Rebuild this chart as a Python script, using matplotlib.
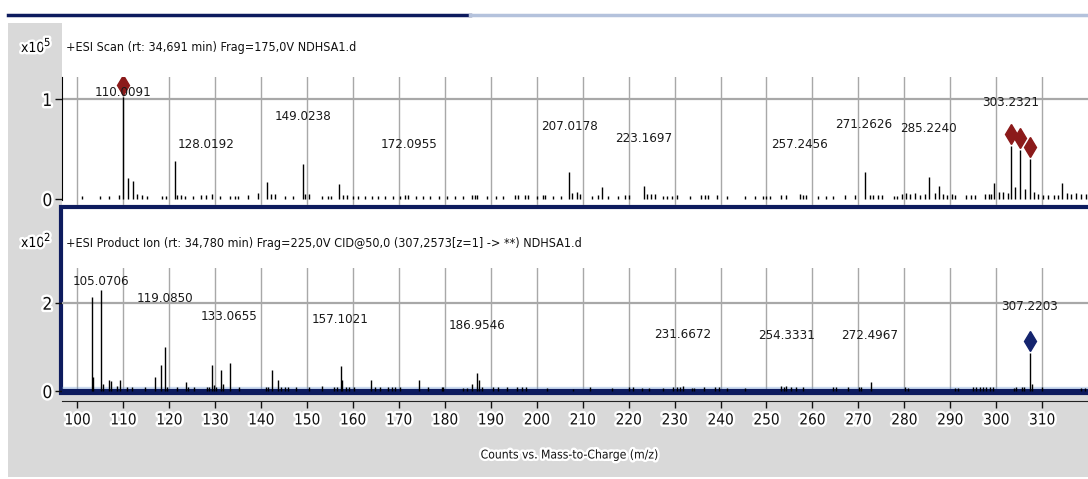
import matplotlib
matplotlib.use("Agg")
import matplotlib.pyplot as plt
from matplotlib import font_manager as fm
from matplotlib.patches import Rectangle
from matplotlib.lines import Line2D
import matplotlib.patheffects as pe

# ---- data ----
# top: +ESI Scan, intensity in x10^5 counts
scan_mz = [100.9, 104.9, 106.9, 109.1, 110.0, 111.1, 112.0, 112.9, 114.0, 115.2,
           118.3, 119.3, 121.2, 121.7, 122.5, 123.4, 125.1, 127.0, 128.0, 129.2,
           131.0, 133.2, 134.3, 135.0, 137.2, 139.4, 141.2, 142.1, 143.0, 145.2,
           147.0, 149.0, 149.5, 150.3, 153.2, 154.6, 155.3, 157.0, 157.7, 158.6,
           160.0, 161.1, 162.6, 164.1, 165.5, 167.0, 168.8, 170.2, 171.3, 172.0,
           173.7, 175.3, 176.7, 178.8, 180.4, 182.2, 183.9, 185.8, 186.5, 187.0,
           189.1, 191.1, 192.6, 195.3, 195.8, 197.4, 198.1, 200.0, 201.3, 201.8,
           203.6, 205.2, 207.0, 207.6, 208.7, 209.3, 212.0, 213.4, 214.3, 215.6,
           217.7, 219.2, 220.1, 223.3, 223.9, 224.8, 225.7, 227.4, 228.3, 229.4,
           230.5, 233.4, 235.7, 236.6, 237.3, 239.2, 241.3, 245.3, 247.4, 249.2,
           250.0, 250.7, 253.2, 254.3, 257.2, 257.9, 258.7, 261.2, 263.0, 264.5,
           267.2, 269.2, 271.4, 272.5, 273.2, 274.3, 275.2, 277.7, 278.5, 279.4,
           280.3, 281.3, 282.3, 283.4, 284.5, 285.4, 286.6, 287.5, 288.4, 289.4,
           290.3, 291.1, 293.5, 294.5, 295.5, 297.5, 298.4, 298.9, 299.5, 300.6,
           301.5, 302.6, 303.3, 304.2, 305.2, 306.2, 307.3, 308.3, 309.2, 310.1,
           311.4, 312.5, 313.4, 314.4, 315.4, 316.4, 317.4, 318.4, 319.5]
scan_int = [0.03, 0.03, 0.03, 0.04, 1.02, 0.21, 0.18, 0.05, 0.04, 0.03,
            0.03, 0.03, 0.38, 0.04, 0.04, 0.03, 0.03, 0.04, 0.04, 0.05,
            0.03, 0.03, 0.03, 0.03, 0.04, 0.06, 0.17, 0.05, 0.05, 0.03,
            0.03, 0.35, 0.05, 0.05, 0.03, 0.03, 0.03, 0.15, 0.04, 0.04,
            0.03, 0.03, 0.03, 0.03, 0.03, 0.03, 0.03, 0.03, 0.04, 0.04,
            0.03, 0.03, 0.03, 0.03, 0.03, 0.03, 0.03, 0.04, 0.04, 0.04,
            0.03, 0.03, 0.03, 0.04, 0.04, 0.04, 0.04, 0.03, 0.04, 0.04,
            0.03, 0.03, 0.27, 0.06, 0.07, 0.05, 0.03, 0.04, 0.12, 0.03,
            0.03, 0.04, 0.04, 0.13, 0.05, 0.05, 0.05, 0.03, 0.03, 0.03,
            0.04, 0.03, 0.04, 0.04, 0.04, 0.04, 0.03, 0.03, 0.03, 0.03,
            0.03, 0.03, 0.04, 0.04, 0.05, 0.04, 0.04, 0.03, 0.03, 0.03,
            0.04, 0.04, 0.27, 0.04, 0.04, 0.04, 0.04, 0.03, 0.03, 0.05,
            0.06, 0.05, 0.06, 0.04, 0.05, 0.22, 0.06, 0.13, 0.05, 0.04,
            0.05, 0.04, 0.04, 0.04, 0.04, 0.05, 0.05, 0.05, 0.16, 0.07,
            0.07, 0.06, 0.53, 0.12, 0.49, 0.10, 0.40, 0.07, 0.05, 0.04,
            0.04, 0.04, 0.04, 0.16, 0.06, 0.05, 0.06, 0.05, 0.05]
scan_marked = [110.0, 303.3, 305.2, 307.3]
scan_labels = ["110.0091", "128.0192", "149.0238", "172.0955", "207.0178",
               "223.1697", "257.2456", "271.2626", "285.2240", "303.2321"]
scan_label_y = [1.07, 0.55, 0.82, 0.55, 0.72, 0.61, 0.55, 0.74, 0.71, 0.97]

# bottom: +ESI Product Ion, intensity in x10^2 counts
prod_mz = [103.1, 103.3, 105.05, 105.5, 106.9, 107.3, 108.7, 109.3, 110.8, 111.8,
           114.7, 116.9, 118.1, 119.1, 119.55, 121.7, 123.6, 124.0, 125.4, 128.1,
           128.6, 129.2, 129.7, 130.1, 131.2, 131.7, 133.2, 135.2, 141.0, 141.5,
           142.3, 143.7, 144.2, 145.2, 145.9, 147.6, 150.5, 153.2, 155.8, 156.4,
           157.3, 157.6, 158.5, 159.2, 160.3, 163.8, 164.7, 165.8, 167.6, 168.5,
           169.2, 170.2, 174.4, 176.4, 179.3, 179.6, 184.0, 184.7, 185.8, 187.0,
           187.5, 188.0, 190.5, 191.6, 193.6, 195.6, 196.7, 197.7, 202.2, 207.8,
           211.6, 216.3, 220.1, 221.0, 222.8, 224.5, 227.5, 229.7, 230.6, 231.2,
           231.8, 233.7, 234.2, 236.3, 238.8, 239.6, 241.3, 245.3, 253.2, 253.8,
           254.3, 255.3, 256.5, 258.0, 264.5, 265.2, 267.7, 270.1, 270.5, 272.7,
           280.2, 280.8, 291.1, 291.6, 295.0, 295.7, 296.4, 297.2, 297.9, 298.6,
           299.4, 303.9, 304.4, 305.6, 306.0, 307.3, 307.7, 310.0, 318.4, 319.3]
prod_int = [2.14, 0.32, 2.29, 0.16, 0.26, 0.23, 0.11, 0.26, 0.10, 0.10,
            0.10, 0.32, 0.59, 1.00, 0.10, 0.08, 0.20, 0.10, 0.08, 0.08,
            0.08, 0.59, 0.13, 0.10, 0.48, 0.15, 0.64, 0.08, 0.08, 0.08,
            0.48, 0.25, 0.10, 0.10, 0.10, 0.08, 0.08, 0.12, 0.08, 0.08,
            0.57, 0.25, 0.10, 0.10, 0.10, 0.25, 0.10, 0.10, 0.10, 0.10,
            0.10, 0.08, 0.25, 0.08, 0.08, 0.08, 0.06, 0.06, 0.15, 0.41,
            0.25, 0.10, 0.08, 0.08, 0.08, 0.08, 0.08, 0.08, 0.06, 0.05,
            0.08, 0.06, 0.08, 0.08, 0.06, 0.06, 0.06, 0.08, 0.10, 0.08,
            0.12, 0.07, 0.07, 0.09, 0.10, 0.10, 0.06, 0.06, 0.12, 0.10,
            0.12, 0.08, 0.08, 0.08, 0.08, 0.08, 0.08, 0.10, 0.10, 0.21,
            0.10, 0.06, 0.06, 0.06, 0.08, 0.08, 0.08, 0.08, 0.08, 0.08,
            0.08, 0.06, 0.08, 0.08, 0.10, 0.85, 0.15, 0.08, 0.06, 0.06]
prod_marked = [307.3]
prod_labels = ["105.0706", "119.0850", "133.0655", "157.1021", "186.9546",
               "231.6672", "254.3331", "272.4967", "307.2203"]
prod_label_y = [2.48, 2.10, 1.68, 1.61, 1.49, 1.27, 1.25, 1.25, 1.91]

mz_ticks = list(range(100, 320, 10))
scan_title = "+ESI Scan (rt: 34,691 min) Frag=175,0V NDHSA1.d"
prod_title = "+ESI Product Ion (rt: 34,780 min) Frag=225,0V CID@50,0 (307,2573[z=1] -> **) NDHSA1.d"
x_title = "Counts vs. Mass-to-Charge (m/z)"

W, H = 1088, 479
NAVY = "#0d1b5e"
GRID = "#a8a8a8"
halo = [pe.withStroke(linewidth=3.5, foreground="white")]


# the screenshot uses a narrow sans; pick a condensed face if one is installed
def find_narrow():
    best = None
    for f in fm.fontManager.ttflist:
        narrow = (f.stretch in ("condensed", "semi-condensed", "extra-condensed")
                  or "Narrow" in f.name or "Condensed" in f.name)
        if not narrow or f.style != "normal" or f.weight not in (400, "normal", "regular"):
            continue
        if "Mono" in f.name or "Serif" in f.name:
            continue
        rank = 0 if "Liberation" in f.name else (1 if "Noto" in f.name else 2)
        if best is None or rank < best[0]:
            best = (rank, f.fname)
    return best[1] if best else None


NARROW = find_narrow()


def font(size):
    if NARROW:
        return fm.FontProperties(fname=NARROW, size=size)
    return fm.FontProperties(family="Liberation Sans", size=size * 0.95)


def rect(x0, y0, x1, y1):
    # pixel box (y from top) -> figure fraction [l, b, w, h]
    return [x0 / W, 1 - y1 / H, (x1 - x0) / W, (y1 - y0) / H]


def add_box(x0, y0, x1, y1, **kw):
    l, b, w, h = rect(x0, y0, x1, y1)
    fig.add_artist(Rectangle((l, b), w, h, transform=fig.transFigure, **kw))


def fig_text(x, y, s, size, **kw):
    fig.text(x / W, 1 - y / H, s, fontproperties=font(size), **kw)


fig = plt.figure(figsize=(W / 100, H / 100), dpi=100, facecolor="white")

# window background
add_box(8, 23, W, 477, facecolor="#d9d9d9", edgecolor="none", zorder=-10)
add_box(62, 23, W, 206, facecolor="white", edgecolor="none", zorder=-9)
add_box(61, 207, W + 5, 393, facecolor="white", edgecolor=NAVY, lw=3, zorder=-8)
fig.add_artist(Line2D([8 / W, 470 / W], [1 - 15 / H] * 2, transform=fig.transFigure,
                      color=NAVY, lw=2.5))
fig.add_artist(Line2D([470 / W, 1], [1 - 15 / H] * 2, transform=fig.transFigure,
                      color="#b4c2dc", lw=2.5))

xlim = (96.63, 320.0)


def style(ax, yt, ylim):
    ax.set_facecolor("none")
    ax.set_xlim(*xlim)
    ax.set_ylim(*ylim)
    ax.set_xticks(mz_ticks)
    ax.grid(axis="x", color=GRID, lw=1)
    ax.set_axisbelow(True)
    ax.set_yticks(yt)
    ax.set_yticklabels([str(v) for v in yt], fontproperties=font(12.5))
    ax.tick_params(axis="y", direction="out", length=5, width=1, pad=2,
                   colors="#111111")
    for t in ax.get_yticklabels():
        t.set_path_effects(halo)
    for s in ("top", "right"):
        ax.spines[s].set_visible(False)


# ---- top panel ----
ax1 = fig.add_axes(rect(62, 77, W, 205))
style(ax1, [0, 1], (-0.06, 1.22))
ax1.spines["bottom"].set_visible(False)
ax1.spines["left"].set_bounds(-0.01, 1.22)
ax1.tick_params(axis="x", bottom=False, labelbottom=False)
ax1.axhline(1, color=GRID, lw=1.6, zorder=1)
ax1.vlines(scan_mz, 0, scan_int, color="black", lw=1, zorder=3)
top_lookup = dict(zip(scan_mz, scan_int))
ax1.plot(scan_marked, [top_lookup[m] + 0.125 for m in scan_marked], "d",
         color="#8b1a1a", ms=10.5, zorder=4)
for s, y in zip(scan_labels, scan_label_y):
    ax1.text(float(s), y, s, ha="center", va="center", fontproperties=font(9.5),
             color="#1a1a1a", zorder=5)

# ---- bottom panel ----
ax2 = fig.add_axes(rect(62, 268, W, 393))
style(ax2, [0, 2], (-0.045, 2.786))
ax2.spines["left"].set_visible(False)
ax2.spines["bottom"].set_position(("outward", 6))
ax2.spines["bottom"].set_color("#222222")
ax2.set_xticklabels([str(v) for v in mz_ticks], fontproperties=font(11))
ax2.tick_params(axis="x", direction="out", length=5, width=1,
                colors="#111111", pad=3)
for t in ax2.get_xticklabels():
    t.set_path_effects(halo)
ax2.axhline(2, color=GRID, lw=1.6, zorder=1)
ax2.axhline(0, color="#6f9ad6", lw=6, alpha=0.35, zorder=2)
ax2.axhline(0, color=NAVY, lw=3, zorder=3)
ax2.vlines(prod_mz, 0, prod_int, color="black", lw=1, zorder=3)
bot_lookup = dict(zip(prod_mz, prod_int))
ax2.plot(prod_marked, [bot_lookup[m] + 0.28 for m in prod_marked], "d",
         color="#14246e", ms=10.5, zorder=4)
for s, y in zip(prod_labels, prod_label_y):
    ax2.text(float(s), y, s, ha="center", va="center", fontproperties=font(9.5),
             color="#1a1a1a", zorder=5)

# ---- headers ----
for y, exp, title in ((48, "5", scan_title), (243, "2", prod_title)):
    fig_text(21, y, "x10", 10, va="center", ha="left", path_effects=halo)
    fig_text(44, y - 5, exp, 8, va="center", ha="left", path_effects=halo)
    fig_text(66, y, title, 9, va="center", ha="left", color="#111111")

fig_text(570, 455, x_title, 8.7, ha="center", va="center",
         color="#111111", path_effects=halo)

fig.savefig("out.png", dpi=100, facecolor="white")
